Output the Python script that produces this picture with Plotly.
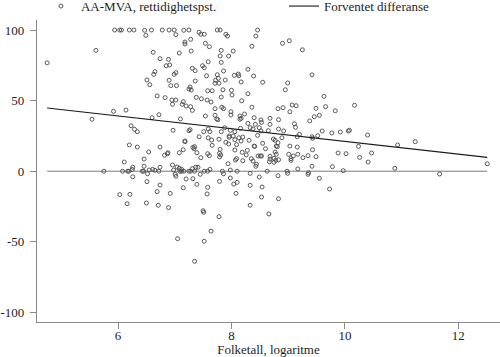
import plotly.graph_objects as go

# Scatter: log population (x) vs AA-MVA timeliness percentage difference (y)
folketall_log = [
    5.94, 6.03, 6.06, 6.20, 6.28, 6.47, 6.49, 6.59, 6.78, 5.61, 4.75, 6.62, 6.74, 6.65, 6.63, 6.51, 6.56, 6.69,
    6.90, 6.99, 7.16, 7.25, 7.02, 7.43, 7.46, 7.52, 7.75, 7.80, 7.90, 7.93, 8.46, 8.43, 7.18, 7.18, 7.28, 7.54,
    7.61, 8.36, 8.90, 9.02, 7.08, 7.29, 7.82, 8.03, 7.80, 7.95, 6.89, 6.85, 6.91, 7.59, 7.82, 7.31, 7.36, 7.49,
    7.52, 8.29, 7.02, 6.99, 7.86, 7.75, 8.05, 8.12, 8.13, 7.56, 8.39, 7.77, 7.72, 7.89, 6.90, 7.36, 8.17, 8.55,
    8.99, 7.71, 7.78, 6.93, 7.03, 7.27, 7.25, 7.29, 7.58, 7.66, 7.85, 8.00, 8.95, 8.29, 8.01, 6.83, 6.95, 7.02,
    7.38, 7.47, 7.57, 7.64, 7.82, 8.18, 9.07, 6.96, 7.15, 7.13, 7.20, 7.28, 7.71, 7.83, 7.86, 8.36, 8.82, 8.91,
    9.25, 9.42, 9.14, 9.63, 9.49, 9.66, 9.83, 10.17, 9.46, 9.55, 9.38, 9.11, 9.13, 9.60, 9.77, 9.92, 10.06, 10.08,
    9.20, 9.16, 9.42, 9.43, 9.52, 10.40, 10.24, 10.93, 11.24, 9.03, 9.16, 9.43, 9.88, 10.02, 10.47, 9.17, 9.09,
    9.05, 9.05, 9.26, 9.35, 9.49, 10.26, 10.41, 9.42, 9.78, 10.88, 12.51, 9.17, 9.97, 9.36, 9.35, 11.67, 9.55,
    5.92, 6.14, 5.54, 6.60, 6.72, 6.23, 6.29, 6.34, 6.20, 6.34, 6.74, 6.54, 6.82, 6.87, 6.46, 6.11, 6.26, 6.25,
    6.46, 6.74, 5.75, 6.08, 6.17, 6.19, 6.43, 6.45, 6.55, 6.61, 6.65, 6.72, 6.52, 6.26, 6.51,
    7.31, 7.99, 9.03, 7.10, 7.54, 7.71, 7.74, 7.76, 7.99, 8.15, 8.15, 8.17, 8.23, 8.40, 8.52, 8.53, 8.68, 8.83,
    8.29, 8.42, 8.68, 6.97, 7.25, 7.27, 7.51, 7.59, 7.62, 7.88, 7.82, 7.98, 8.06, 8.16, 8.33, 8.38, 8.49, 8.52,
    8.65, 8.83, 8.92, 7.43, 7.59, 7.65, 7.78, 7.90, 7.96, 7.96, 8.03, 8.06, 8.13, 8.20, 8.17, 8.31, 8.46, 8.74,
    8.77, 8.89, 7.18, 7.18, 7.35, 7.66, 7.95, 8.09, 8.40, 8.41, 8.55, 8.82, 8.79, 8.81, 7.15, 7.32, 7.34, 7.80,
    8.06, 8.19, 8.28, 8.60, 6.88, 7.08, 7.39, 7.58, 7.61, 7.79, 7.81, 7.79, 8.26, 8.47, 8.51, 8.53, 8.68, 8.77,
    8.79, 9.01, 7.46, 8.09, 8.07, 8.20, 8.35, 8.38, 7.94, 8.44, 8.43, 8.68, 8.67, 8.75, 8.78, 8.75, 8.83, 6.96,
    6.98, 7.04, 7.08, 7.12, 7.01, 7.02, 7.09, 7.12, 7.16, 7.20, 7.25, 7.28, 7.31, 7.37, 7.41, 7.35, 7.45, 7.52,
    7.58, 7.62, 7.84, 7.86, 7.98, 8.10, 8.33, 8.49, 8.63, 8.82, 8.98, 8.99, 7.79, 8.10,
    7.32, 7.98, 6.74, 7.15, 7.39, 7.58, 8.04, 8.33, 8.54, 6.03, 6.21, 6.69, 6.92, 7.57, 8.08, 8.53, 8.83, 6.16,
    6.50, 6.71, 6.89, 7.50, 7.51, 8.33, 8.66, 7.78, 7.64, 7.05, 7.52, 7.35, 9.73,
]

aa_mva_pct = [
    100, 100, 100, 100, 100, 99.8, 96.2, 100, 100, 85.6, 76.8, 84.2, 79.7, 70.5, 68.6, 64.6, 61.3, 53.3,
    100, 100, 99.8, 100, 96.7, 98.4, 97.0, 97.0, 100, 100, 97.0, 95.7, 100, 95.7, 91.5, 90.1, 93.4, 90.6,
    88.2, 88.5, 90.6, 92.4, 83.7, 85.1, 85.6, 85.1, 81.6, 81.6, 79.2, 74.7, 75.2, 77.5, 77.1, 72.9, 71.2, 74.7,
    73.3, 72.2, 69.8, 68.6, 71.0, 68.3, 67.9, 68.8, 67.6, 67.6, 67.4, 65.8, 64.4, 64.6, 64.4, 63.9, 63.2, 63.0,
    62.5, 62.3, 62.3, 60.6, 60.6, 59.6, 58.2, 57.5, 57.0, 57.0, 57.7, 57.3, 57.7, 54.9, 54.0, 52.1, 50.4, 50.4,
    52.3, 51.3, 50.4, 49.0, 52.5, 49.9, 46.9, 47.4, 49.2, 47.4, 46.2, 45.7, 44.3, 45.3, 44.3, 45.3, 44.3, 45.0,
    86.0, 68.3, 46.4, 53.0, 44.5, 45.7, 42.8, 46.7, 38.6, 39.6, 35.6, 33.6, 31.1, 28.5, 27.1, 27.8, 28.5, 29.0,
    26.1, 24.4, 24.4, 23.3, 25.1, 25.6, 17.6, 18.6, 20.9, 17.8, 17.1, 15.2, 12.9, 12.4, 12.9, 12.0, 10.8,
    8.9, 7.7, 9.6, 11.0, 10.3, 9.8, 6.5, 3.5, 3.2, 2.1, 5.3, 1.6, 0.4, -1.1, -2.2, -2.0, -5.0,
    42.4, 43.3, 36.8, 37.9, 40.0, 32.2, 29.7, 28.0, 18.6, 17.1, 17.1, 13.6, 11.3, 12.4, 8.6, 6.5, 2.8, 1.3,
    3.5, 2.8, 0, 0, 0, 0, 0, 0, 0.8, 1.3, 0.6, 0, -1.8, -3.9, -7.4,
    43.1, 42.1, 42.1, 37.0, 39.1, 39.6, 37.0, 36.5, 39.8, 39.1, 36.8, 37.5, 40.5, 37.9, 36.3, 34.6, 37.5, 36.5,
    33.9, 33.2, 33.2, 29.0, 28.7, 29.4, 28.0, 29.9, 28.0, 30.8, 28.0, 29.0, 28.0, 30.4, 30.8, 29.9, 30.8, 28.5,
    28.7, 29.9, 28.5, 24.4, 23.7, 22.1, 22.6, 20.5, 24.0, 24.9, 24.9, 22.3, 23.7, 24.2, 21.4, 21.9, 25.4, 22.8,
    21.9, 23.7, 21.4, 20.9, 17.4, 18.3, 19.3, 18.8, 17.8, 17.6, 19.8, 20.2, 17.8, 17.4, 15.2, 16.9, 15.9, 15.5,
    15.0, 13.4, 14.8, 15.9, 13.1, 13.1, 13.1, 12.4, 11.0, 12.7, 11.5, 10.1, 11.5, 10.8, 10.8, 10.8, 10.6, 13.6,
    12.0, 12.0, 9.6, 8.9, 7.9, 7.4, 8.9, 7.2, 5.3, 4.9, 3.5, 8.6, 6.7, 9.1, 7.7, 6.3, 8.1, 4.4,
    0.8, 3.0, 2.1, 1.3, -2.2, -3.6, 0, 0, 0, -5.5, 0, 0, 1.8, 2.8, 2.8, 0, -2.2, 0,
    0, 1.3, 0, -1.8, 0.8, 0, -1.5, -4.1, 0, -3.2, 0, -1.5, -7.2, -7.9,
    -5.3, -4.8, -9.8, -11.7, -9.3, -11.4, -9.1, -10.0, -11.2, -16.6, -16.4, -14.5, -15.7, -16.1, -15.7, -18.3, -19.5, -23.0,
    -22.5, -24.1, -25.8, -28.0, -29.1, -24.1, -30.3, -32.2, -42.4, -47.8, -49.6, -63.8, -12.6,
]

# Expected difference (fitted line) endpoints over the data range
fit_x = [4.75, 12.51]
fit_y = [44.8, 9.8]

# Zero reference over the data range
zero_x = [4.75, 12.51]
zero_y = [0, 0]

x_ticks = [6, 8, 10, 12]
y_ticks = [-100, -50, 0, 50, 100]

FONT = "Liberation Serif, Times New Roman, serif"
TEXT_COLOR = "#1e1e1e"
AXIS_COLOR = "#8a8a8a"

fig = go.Figure()

fig.add_trace(go.Scatter(
    x=zero_x, y=zero_y, mode="lines",
    line=dict(color="#7a7a7a", width=1),
    showlegend=False, hoverinfo="skip",
))

fig.add_trace(go.Scatter(
    x=folketall_log, y=aa_mva_pct, mode="markers",
    name="AA-MVA, rettidighetspst.", legend="legend",
    marker=dict(symbol="circle-open", size=4, color="#4a4a4a", line=dict(width=0.9, color="#4a4a4a")),
))

fig.add_trace(go.Scatter(
    x=fit_x, y=fit_y, mode="lines",
    name="Forventet differanse", legend="legend2",
    line=dict(color="#1a1a1a", width=1.1),
))

legend_common = dict(
    orientation="h", yanchor="middle", y=1.046, xanchor="left",
    font=dict(family=FONT, size=13, color=TEXT_COLOR),
    bgcolor="rgba(0,0,0,0)", borderwidth=0,
)

fig.update_layout(
    template="none",
    width=500, height=357,
    margin=dict(l=37, r=0, t=20, b=35, pad=0, autoexpand=False),
    paper_bgcolor="white", plot_bgcolor="white",
    font=dict(family=FONT, size=13, color=TEXT_COLOR),
    showlegend=True,
    legend=dict(x=0.0086, **legend_common),
    legend2=dict(x=0.5335, **legend_common),
    xaxis=dict(
        range=[4.571, 12.735], tickvals=x_ticks, ticktext=[str(v) for v in x_ticks],
        showgrid=False, zeroline=False, showline=True, linecolor=AXIS_COLOR, linewidth=1.2,
        ticks="outside", ticklen=6, tickcolor=AXIS_COLOR, tickwidth=1,
        ticklabelstandoff=-5,
        tickfont=dict(family=FONT, size=13, color=TEXT_COLOR),
        title=dict(text="Folketall, logaritme", font=dict(family=FONT, size=13, color=TEXT_COLOR), standoff=1),
        automargin=False,
    ),
    yaxis=dict(
        range=[-106.8, 107.1], tickvals=y_ticks, ticktext=[str(v) for v in y_ticks],
        showgrid=False, zeroline=False, showline=True, linecolor=AXIS_COLOR, linewidth=1.2,
        ticks="outside", ticklen=6, tickcolor=AXIS_COLOR, tickwidth=1,
        ticklabelstandoff=3,
        tickfont=dict(family=FONT, size=13, color=TEXT_COLOR),
        automargin=False,
    ),
)

fig.write_html(
    "out.html",
    config={"displayModeBar": False},
    post_script="document.body.style.margin='0';document.body.style.padding='0';",
)
